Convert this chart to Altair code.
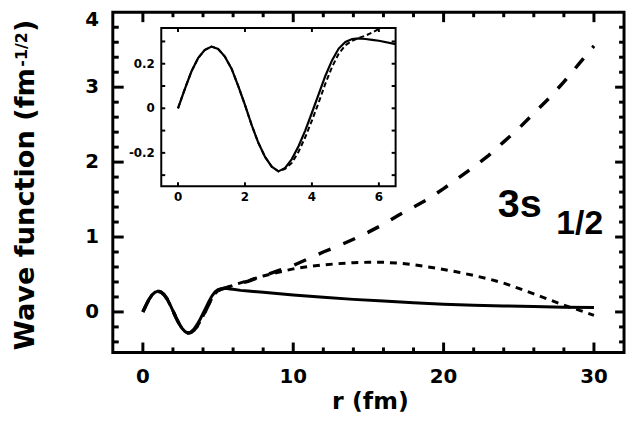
import altair as alt
import pandas as pd

# ---------------- data ----------------
r_core = [0.0, 0.2, 0.4, 0.6, 0.8, 1.0, 1.2, 1.4, 1.6, 1.8, 2.0, 2.2, 2.4, 2.6, 2.8,
          3.0, 3.2, 3.4, 3.6, 3.8, 4.0, 4.2, 4.4, 4.6, 4.8, 5.0, 5.2, 5.4, 5.6, 5.8, 6.0]
solid_core = [0.000, 0.085, 0.165, 0.225, 0.262, 0.277, 0.266, 0.232, 0.178, 0.100, 0.015,
              -0.075, -0.155, -0.218, -0.262, -0.283, -0.268, -0.228, -0.170, -0.100, -0.020,
              0.062, 0.145, 0.215, 0.268, 0.298, 0.311, 0.314, 0.311, 0.307, 0.303]
dash_core = [0.000, 0.085, 0.165, 0.225, 0.262, 0.277, 0.266, 0.232, 0.178, 0.100, 0.015,
             -0.075, -0.155, -0.218, -0.262, -0.283, -0.272, -0.245, -0.195, -0.130, -0.055,
             0.025, 0.110, 0.185, 0.245, 0.283, 0.303, 0.316, 0.326, 0.340, 0.356]

r_tail_solid = [6.5, 7, 8, 10, 12, 14, 16, 18, 20, 22, 24, 26, 28, 30]
solid_tail = [0.288, 0.280, 0.262, 0.225, 0.195, 0.168, 0.145, 0.122, 0.103, 0.090,
              0.080, 0.072, 0.064, 0.058]

r_tail = [7, 8, 9, 10, 11, 12, 13, 14, 15, 16, 17, 18, 19, 20, 21, 22, 23, 24, 25, 26,
          27, 28, 29, 30]
dash_tail = [0.41, 0.48, 0.55, 0.62, 0.71, 0.80, 0.88, 0.97, 1.065, 1.17, 1.29, 1.40,
             1.51, 1.645, 1.79, 1.935, 2.09, 2.27, 2.45, 2.65, 2.85, 3.07, 3.31, 3.55]
dot_tail = [0.42, 0.48, 0.53, 0.575, 0.605, 0.628, 0.645, 0.658, 0.663, 0.662, 0.652,
            0.632, 0.600, 0.567, 0.530, 0.487, 0.44, 0.385, 0.315, 0.24, 0.165, 0.09,
            0.025, -0.045]

x_major = [0, 10, 20, 30]
x_minor = [2, 4, 6, 8, 12, 14, 16, 18, 22, 24, 26, 28]
y_major = [0, 1, 2, 3]
y_minor = [-0.4, -0.2, 0.2, 0.4, 0.6, 0.8, 1.2, 1.4, 1.6, 1.8, 2.2, 2.4, 2.6, 2.8,
           3.2, 3.4, 3.6, 3.8]
x_labels = [0, 10, 20, 30]
y_labels = [0, 1, 2, 3]
y_top_label = [4]

inset_x_ticks = [0, 2, 4, 6]
inset_y_ticks = [-0.3, -0.2, -0.1, 0.0, 0.1, 0.2, 0.3]
inset_y_label_vals = [-0.2, 0.0, 0.2]
inset_y_label_text = ["-0.2", "0", "0.2"]

# ---------------- tables ----------------
df_solid = pd.DataFrame({"r": r_core + r_tail_solid, "psi": solid_core + solid_tail})
df_dash = pd.DataFrame({"r": r_core + r_tail, "psi": dash_core + dash_tail})
df_dot = pd.DataFrame({"r": r_core + r_tail, "psi": dash_core + dot_tail})

W, H = 517, 344
FONT = "DejaVu Sans"

X = alt.Scale(domain=[-2, 32], nice=False, zero=False)
Y = alt.Scale(domain=[-0.54, 4], nice=False, zero=False)
XI = alt.Scale(domain=[-0.5, 6.5], range=[49, 286], nice=False, zero=False)
YI = alt.Scale(domain=[-0.35, 0.36], range=[176, 16], nice=False, zero=False)


def xq(field, scale):
    return alt.X(field, type="quantitative", scale=scale, axis=None)


def yq(field, scale):
    return alt.Y(field, type="quantitative", scale=scale, axis=None)


def vals(v):
    return pd.DataFrame({"v": v})


one = pd.DataFrame({"k": [0]})

# ---------------- main panel ----------------
dot_line = alt.Chart(df_dot).mark_line(color="black", strokeWidth=3, strokeDash=[7, 6]).encode(
    x=xq("r", X), y=yq("psi", Y))
dash_line = alt.Chart(df_dash).mark_line(color="black", strokeWidth=3.5, strokeDash=[13, 14]).encode(
    x=xq("r", X), y=yq("psi", Y))
solid_line = alt.Chart(df_solid).mark_line(color="black", strokeWidth=3).encode(
    x=xq("r", X), y=yq("psi", Y))

tick = dict(color="black", strokeWidth=3)
bx_maj = alt.Chart(vals(x_major)).mark_rule(**tick).encode(x=xq("v", X), y=alt.value(H), y2=alt.value(H - 10))
bx_min = alt.Chart(vals(x_minor)).mark_rule(**tick).encode(x=xq("v", X), y=alt.value(H), y2=alt.value(H - 5))
tx_maj = alt.Chart(vals(x_major)).mark_rule(**tick).encode(x=xq("v", X), y=alt.value(0), y2=alt.value(10))
tx_min = alt.Chart(vals(x_minor)).mark_rule(**tick).encode(x=xq("v", X), y=alt.value(0), y2=alt.value(5))
ly_maj = alt.Chart(vals(y_major)).mark_rule(**tick).encode(y=yq("v", Y), x=alt.value(0), x2=alt.value(11))
ly_min = alt.Chart(vals(y_minor)).mark_rule(**tick).encode(y=yq("v", Y), x=alt.value(0), x2=alt.value(6))
ry_maj = alt.Chart(vals(y_major)).mark_rule(**tick).encode(y=yq("v", Y), x=alt.value(W), x2=alt.value(W - 9))
ry_min = alt.Chart(vals(y_minor)).mark_rule(**tick).encode(y=yq("v", Y), x=alt.value(W), x2=alt.value(W - 5))

lab = dict(font=FONT, fontWeight="bold", fontSize=20, color="black")
x_lab = alt.Chart(vals(x_labels)).mark_text(baseline="middle", align="center", **lab).encode(
    x=xq("v", X), y=alt.value(H + 25), text=alt.Text("v:Q", format="d"))
y_lab = alt.Chart(vals(y_labels)).mark_text(baseline="middle", align="right", **lab).encode(
    y=yq("v", Y), x=alt.value(-14), text=alt.Text("v:Q", format="d"))
y_lab_top = alt.Chart(vals(y_top_label)).mark_text(baseline="top", align="right", dy=-2, **lab).encode(
    y=yq("v", Y), x=alt.value(-14), text=alt.Text("v:Q", format="d"))

x_title = alt.Chart(one).mark_text(text="r (fm)", font=FONT, fontWeight="bold", fontSize=24,
                                   align="center", baseline="alphabetic").encode(
    x=alt.value(260.5), y=alt.value(401))
yt_main = alt.Chart(one).mark_text(text="Wave function (fm", font=FONT, fontWeight="bold",
                                   fontSize=27.5, angle=270, align="left", baseline="alphabetic").encode(
    x=alt.value(-80), y=alt.value(341.7))
yt_sup = alt.Chart(one).mark_text(text="-1/2", font=FONT, fontWeight="bold", fontSize=16,
                                  angle=270, align="left", baseline="alphabetic").encode(
    x=alt.value(-86.5), y=alt.value(55))
yt_close = alt.Chart(one).mark_text(text=")", font=FONT, fontWeight="bold", fontSize=27.5,
                                    angle=270, align="left", baseline="alphabetic").encode(
    x=alt.value(-80), y=alt.value(20))

ann_df = pd.DataFrame({"x": [23.6], "y": [1.27]})
ann_sub_df = pd.DataFrame({"x": [27.5], "y": [1.044]})
ann = alt.Chart(ann_df).mark_text(text="3s", font="Liberation Sans", fontWeight="bold",
                                  fontSize=40, align="left", baseline="alphabetic").encode(
    x=xq("x", X), y=yq("y", Y))
ann_sub = alt.Chart(ann_sub_df).mark_text(text="1/2", font="Liberation Sans", fontWeight="bold",
                                          fontSize=34, align="left", baseline="alphabetic").encode(
    x=xq("x", X), y=yq("y", Y))

main = alt.layer(dot_line, dash_line, solid_line, bx_maj, bx_min, tx_maj, tx_min,
                 ly_maj, ly_min, ry_maj, ry_min, x_lab, y_lab, y_lab_top,
                 x_title, yt_main, yt_sup, yt_close, ann, ann_sub)

# ---------------- inset ----------------
frame_df = pd.DataFrame({"x": [-0.5], "x2": [6.5], "y": [-0.35], "y2": [0.36]})
inset_bg = alt.Chart(frame_df).mark_rect(fill="white", stroke=None).encode(
    x=xq("x", XI), x2="x2", y=yq("y", YI), y2="y2")
inset_frame = alt.Chart(frame_df).mark_rect(fill=None, filled=False, stroke="black",
                                           strokeWidth=2).encode(
    x=xq("x", XI), x2="x2", y=yq("y", YI), y2="y2")

i_dash = alt.Chart(df_dash).transform_filter("datum.r <= 6.0").mark_line(
    color="black", strokeWidth=2, strokeDash=[5, 3]).encode(x=xq("r", XI), y=yq("psi", YI))
i_solid = alt.Chart(df_solid).transform_filter("datum.r <= 6.5").mark_line(
    color="black", strokeWidth=2.2).encode(x=xq("r", XI), y=yq("psi", YI))

itick = dict(color="black", strokeWidth=2)
i_bx = alt.Chart(vals(inset_x_ticks)).mark_rule(**itick).encode(
    x=xq("v", XI), y=alt.value(176), y2=alt.value(172))
i_tx = alt.Chart(vals(inset_x_ticks)).mark_rule(**itick).encode(
    x=xq("v", XI), y=alt.value(16), y2=alt.value(20))
i_ly = alt.Chart(vals(inset_y_ticks)).mark_rule(**itick).encode(
    y=yq("v", YI), x=alt.value(49), x2=alt.value(53))
i_ry = alt.Chart(vals(inset_y_ticks)).mark_rule(**itick).encode(
    y=yq("v", YI), x=alt.value(286), x2=alt.value(282))

ilab = dict(font=FONT, fontWeight="bold", fontSize=12, color="black")
i_xlab = alt.Chart(vals(inset_x_ticks)).mark_text(baseline="middle", align="center", **ilab).encode(
    x=xq("v", XI), y=alt.value(186.7), text=alt.Text("v:Q", format="d"))
i_ylab = alt.Chart(pd.DataFrame({"v": inset_y_label_vals, "t": inset_y_label_text})).mark_text(
    baseline="middle", align="right", **ilab).encode(
    y=yq("v", YI), x=alt.value(42.5), text="t:N")

inset = alt.layer(inset_bg, i_dash, i_solid, i_bx, i_tx, i_ly, i_ry, i_xlab, i_ylab, inset_frame)

chart = alt.layer(main, inset).resolve_scale(x="independent", y="independent").properties(
    width=W, height=H,
    padding={"left": 106, "top": 2, "right": 2, "bottom": 61},
    autosize=alt.AutoSizeParams(type="none"),
).configure_view(stroke="black", strokeWidth=3)

chart.save("out.html", embed_options={"renderer": "svg", "actions": False})
